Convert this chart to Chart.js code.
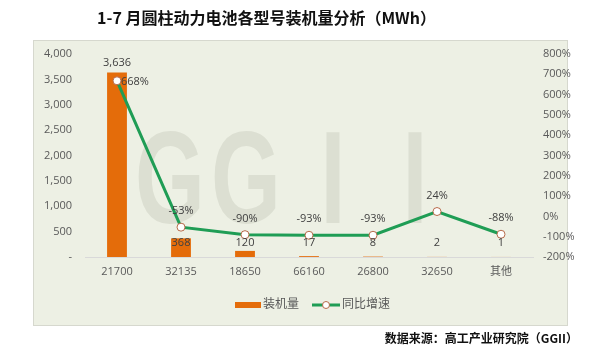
<!DOCTYPE html>
<html lang="zh">
<head>
    <meta charset="UTF-8">
    <title>1-7月圆柱动力电池各型号装机量分析</title>
    <style>
        body {
            margin: 0;
            background: #fff;
            font-family: "Noto Sans CJK SC", sans-serif;
        }
        .wrap {
            position: relative;
            width: 600px;
            height: 353px;
            overflow: hidden;
        }
        .title {
            position: absolute;
            top: 5px;
            left: 0;
            width: 533px;
            text-align: center;
            font-size: 16px;
            font-weight: bold;
            color: #111;
            padding-left: 0;
        }
        .source {
            position: absolute;
            right: 22px;
            top: 329px;
            font-size: 12px;
            font-weight: bold;
            color: #111;
        }
        canvas {
            position: absolute;
            left: 0;
            top: 0;
        }
    </style>
</head>
<body>
<div class="wrap">
    <canvas id="chart" width="600" height="353"></canvas>
    <div class="title">1-7 月圆柱动力电池各型号装机量分析（MWh）</div>
    <div class="source">数据来源：高工产业研究院（GGII）</div>
</div>

<script src="https://cdn.jsdelivr.net/npm/chart.js"></script>
<script>
    // data
    const categories = ['21700', '32135', '18650', '66160', '26800', '32650', '其他'];
    const installed = [3636, 368, 120, 17, 8, 2, 1];          // 装机量 (MWh)
    const growth = [668, -53, -90, -93, -93, 24, -88];         // 同比增速 (%)
    const seriesNames = ['装机量', '同比增速'];

    const orange = '#e46c0a';
    const green = '#1f9d55';
    const tickColor = '#595959';
    const font = '"Open Sans", "Noto Sans CJK SC", sans-serif';

    // panel background + GGII watermark
    const backdrop = {
        id: 'backdrop',
        beforeDraw(chart) {
            const ctx = chart.ctx;
            ctx.save();
            ctx.fillStyle = '#edf0e4';
            ctx.fillRect(33, 40, 534, 285);
            ctx.strokeStyle = '#d6d8ce';
            ctx.lineWidth = 1;
            ctx.strokeRect(33.5, 40.5, 534, 285);
            ctx.restore();
        },
        beforeDatasetsDraw(chart) {
            const ctx = chart.ctx;
            ctx.save();
            ctx.fillStyle = '#dcdfd2';
            ctx.font = 'bold 132px "Liberation Sans"';
            ctx.textAlign = 'center';
            ctx.textBaseline = 'alphabetic';
            [['G', 170], ['G', 246], ['I', 333], ['I', 415]].forEach(([ch, x]) => {
                ctx.save();
                ctx.translate(x, 223);
                ctx.scale(0.68, 1);
                ctx.fillText(ch, 0, 0);
                ctx.restore();
            });
            ctx.restore();
        }
    };

    // value labels + legend
    const labels = {
        id: 'labels',
        afterDatasetsDraw(chart) {
            const ctx = chart.ctx;
            const base = chart.scales.y.getPixelForValue(0);
            ctx.save();
            ctx.font = '11px ' + font;
            ctx.fillStyle = '#404040';
            ctx.textBaseline = 'middle';
            ctx.textAlign = 'center';

            chart.getDatasetMeta(0).data.forEach((bar, i) => {
                const v = installed[i];
                const y = v > 1000 ? bar.y - 10 : base - 14;
                ctx.fillText(v.toLocaleString('en-US'), bar.x, y);
            });

            chart.getDatasetMeta(1).data.forEach((pt, i) => {
                const txt = growth[i] + '%';
                if (i === 0) {
                    ctx.textAlign = 'left';
                    ctx.fillText(txt, pt.x + 4, pt.y + 1);
                    ctx.textAlign = 'center';
                } else {
                    ctx.fillText(txt, pt.x, pt.y - 16);
                }
            });

            // legend
            const cy = 305;
            ctx.font = '12px ' + font;
            ctx.fillStyle = orange;
            ctx.fillRect(235, cy - 3, 26, 6);
            ctx.fillStyle = tickColor;
            ctx.textAlign = 'left';
            ctx.fillText(seriesNames[0], 263, cy);

            ctx.strokeStyle = green;
            ctx.lineWidth = 3;
            ctx.beginPath();
            ctx.moveTo(312, cy);
            ctx.lineTo(340, cy);
            ctx.stroke();
            ctx.beginPath();
            ctx.arc(326, cy, 3.5, 0, Math.PI * 2);
            ctx.fillStyle = '#fff';
            ctx.fill();
            ctx.lineWidth = 1;
            ctx.strokeStyle = '#b86b4b';
            ctx.stroke();
            ctx.fillStyle = tickColor;
            ctx.fillText(seriesNames[1], 342, cy);
            ctx.restore();
        }
    };

    new Chart(document.getElementById('chart'), {
        type: 'bar',
        data: {
            labels: categories,
            datasets: [
                {
                    type: 'bar',
                    label: seriesNames[0],
                    data: installed,
                    backgroundColor: orange,
                    yAxisID: 'y',
                    categoryPercentage: 1,
                    barPercentage: 0.31,
                    order: 1
                },
                {
                    type: 'line',
                    label: seriesNames[1],
                    data: growth,
                    borderColor: green,
                    borderWidth: 3,
                    tension: 0,
                    pointRadius: 4,
                    pointBackgroundColor: '#fff',
                    pointBorderColor: '#b86b4b',
                    pointBorderWidth: 1,
                    yAxisID: 'y1',
                    order: 0
                }
            ]
        },
        options: {
            responsive: false,
            animation: false,
            layout: { padding: { top: 54, left: 0, right: 0, bottom: 0 } },
            plugins: {
                legend: { display: false },
                tooltip: { enabled: false }
            },
            scales: {
                x: {
                    grid: { display: false, drawTicks: false },
                    border: { color: '#d9d9d9' },
                    ticks: { color: tickColor, font: { size: 11, family: font }, padding: 8 },
                    afterFit(s) { s.height = 96; }
                },
                y: {
                    position: 'left',
                    min: 0,
                    max: 4000,
                    grid: { display: false, drawTicks: false },
                    border: { display: false },
                    ticks: {
                        stepSize: 500,
                        color: tickColor,
                        font: { size: 11, family: font },
                        padding: 13,
                        callback: v => v === 0 ? '-' : v.toLocaleString('en-US')
                    },
                    afterFit(s) { s.width = 85; }
                },
                y1: {
                    position: 'right',
                    min: -200,
                    max: 800,
                    grid: { display: false, drawTicks: false },
                    border: { display: false },
                    ticks: {
                        stepSize: 100,
                        color: tickColor,
                        font: { size: 11, family: font },
                        padding: 10,
                        callback: v => v + '%'
                    },
                    afterFit(s) { s.width = 67; }
                }
            }
        },
        plugins: [backdrop, labels]
    });
</script>
</body>
</html>
